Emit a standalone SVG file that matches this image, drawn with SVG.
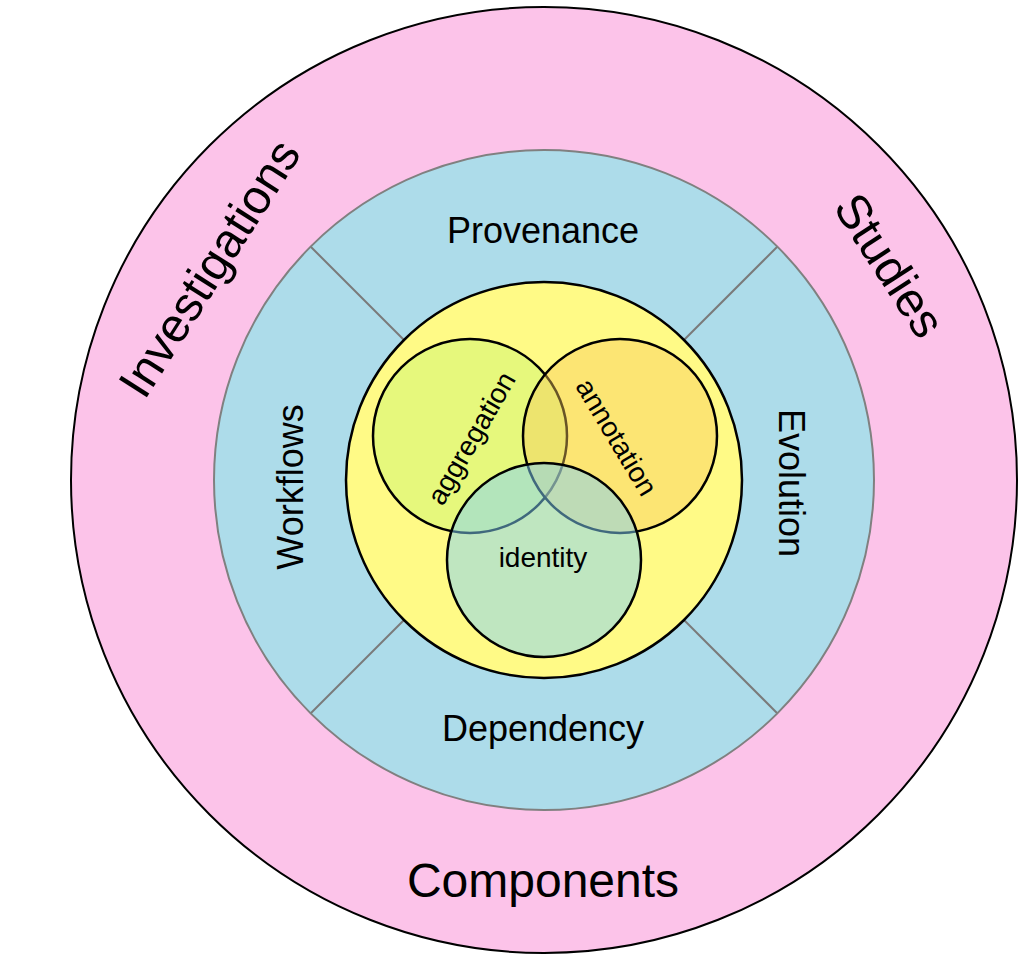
<svg xmlns="http://www.w3.org/2000/svg" width="1024" height="960" viewBox="0 0 1024 960">
  <style>
    text { font-family: "Liberation Sans", Arial, Helvetica, sans-serif; fill: #000; text-anchor: middle; }
    .big { font-size: 48px; }
    .mid { font-size: 36px; }
    .small { font-size: 28px; }
    .ring { stroke: #000; stroke-width: 2.5; }
    .divider { stroke: #7a7a7a; stroke-width: 2; fill: none; }
  </style>
  <rect width="1024" height="960" fill="#ffffff"/>
  <g id="outer">
    <circle cx="544" cy="480" r="473" fill="#fcc3e9" stroke="#000" stroke-width="2"/>
    <text class="big" transform="translate(209,268) rotate(-57.5)" y="17">Investigations</text>
    <text class="big" transform="translate(890,265) rotate(57)" y="17">Studies</text>
    <text class="big" x="543" y="897">Components</text>
  </g>
  <g id="middle">
    <circle cx="544" cy="480" r="330" fill="#addcea" stroke="#808080" stroke-width="2"/>
    <text class="mid" x="543" y="243">Provenance</text>
    <text class="mid" x="543" y="741">Dependency</text>
    <text class="mid" transform="translate(303,487) rotate(-90)">Workflows</text>
    <text class="mid" transform="translate(779,483) rotate(90)">Evolution</text>
  </g>
  <g id="connectors">
    <line class="divider" x1="311" y1="247" x2="404" y2="340"/>
    <line class="divider" x1="777" y1="247" x2="684" y2="340"/>
    <line class="divider" x1="311" y1="713" x2="404" y2="620"/>
    <line class="divider" x1="777" y1="713" x2="684" y2="620"/>
  </g>
  <g id="core">
    <circle cx="544" cy="480" r="198" fill="#fffa86" class="ring"/>
  </g>
  <g id="aggregation">
    <circle cx="470" cy="436" r="97" fill="#e6f87c" class="ring"/>
    <text class="small" transform="translate(471,438) rotate(-60)" y="10">aggregation</text>
  </g>
  <g id="annotation">
    <circle cx="620" cy="436" r="97" fill="#f9c85a" fill-opacity="0.42" class="ring"/>
    <text class="small" transform="translate(617,437) rotate(59)" y="10">annotation</text>
  </g>
  <g id="identity">
    <circle cx="544" cy="560" r="97" fill="#7fd2fa" fill-opacity="0.5" class="ring"/>
    <text class="small" x="543" y="567">identity</text>
  </g>
</svg>
